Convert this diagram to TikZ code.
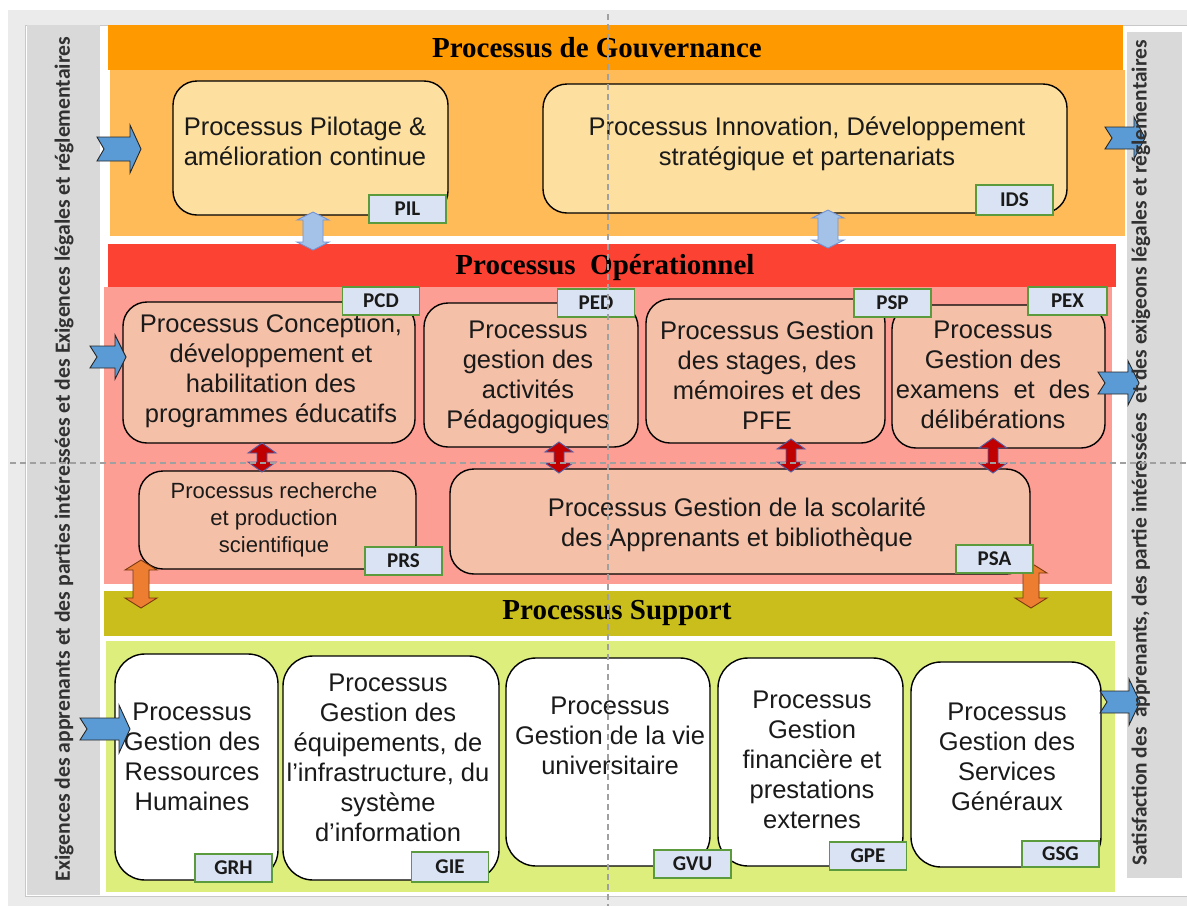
\documentclass[tikz,border=0pt]{standalone}
\usepackage{fontspec}
\setmainfont{Liberation Sans}
\newfontfamily\titlefont{Liberation Serif}
\newfontfamily\tagfont{Carlito}
\usetikzlibrary{fit}
\definecolor{outergray}{HTML}{EBEBEB}
\definecolor{framegray}{HTML}{C8C8C8}
\definecolor{panelgray}{HTML}{D9D9D9}
\definecolor{govhead}{HTML}{FF9900}
\definecolor{govbody}{HTML}{FFBB57}
\definecolor{govbox}{HTML}{FDDFA0}
\definecolor{ophead}{HTML}{FC4232}
\definecolor{opbody}{HTML}{FC9E94}
\definecolor{opbox}{HTML}{F5C0A8}
\definecolor{suphead}{HTML}{C9BE1B}
\definecolor{supbody}{HTML}{DEEE7C}
\definecolor{tagfill}{HTML}{DAE3F3}
\definecolor{tagdraw}{HTML}{5C9B3D}
\definecolor{chevfill}{HTML}{5B9BD5}
\definecolor{textcol}{HTML}{1A1A1A}
\definecolor{govarrfill}{HTML}{A4C2E8}
\definecolor{govarrdraw}{HTML}{7393D3}
\definecolor{redfill}{HTML}{C00000}
\definecolor{reddraw}{HTML}{5060A8}
\definecolor{orfill}{HTML}{ED7D31}
\definecolor{ordraw}{HTML}{7A3A10}
\definecolor{guidegray}{HTML}{A0A0A0}
\newcommand\chevR[5]{\filldraw[chev] ({#1},{#3-#4}) -- ({#2-11},{#3-#4}) -- ({#2-11},{#3-#5}) -- ({#2},{#3}) -- ({#2-11},{#3+#5}) -- ({#2-11},{#3+#4}) -- ({#1},{#3+#4}) -- ({#1+7},{#3}) -- cycle;}
\newcommand\vdarr[7]{\filldraw[#1] ({#2-#5},{#3+#7}) -- ({#2-#6},{#3+#7}) -- ({#2},{#3}) -- ({#2+#6},{#3+#7}) -- ({#2+#5},{#3+#7}) -- ({#2+#5},{#4-#7}) -- ({#2+#6},{#4-#7}) -- ({#2},{#4}) -- ({#2-#6},{#4-#7}) -- ({#2-#5},{#4-#7}) -- cycle;}
\begin{document}
\begin{tikzpicture}[x=1pt,y=-1pt,
  band/.style={inner sep=0pt, outer sep=0pt},
  pbox/.style={inner sep=0pt, draw=black, line width=1.4pt, rounded corners=24pt},
  txt/.style={align=center, text=textcol, font=\fontsize{25.5}{30}\selectfont, inner sep=0pt},
  smalltxt/.style={align=center, text=textcol, font=\fontsize{22}{27}\selectfont, inner sep=0pt},
  title/.style={text=black, font=\titlefont\bfseries\fontsize{29}{32}\selectfont, inner sep=0pt},
  tag/.style={fill=tagfill, draw=tagdraw, line width=1.3pt, minimum width=77pt, minimum height=28pt, inner sep=0pt, font=\tagfont\bfseries\fontsize{21}{24}\selectfont, text=textcol},
  sidetxt/.style={rotate=90, text=textcol!90, font=\tagfont\bfseries, inner sep=0pt},
  chev/.style={fill=chevfill, draw=black!85, line width=0.9pt, line join=miter},
  govarr/.style={fill=govarrfill, draw=govarrdraw, line width=0.9pt},
  redarr/.style={fill=redfill, draw=reddraw, line width=0.9pt},
  orarr/.style={fill=orfill, draw=ordraw, line width=0.9pt},
  guide/.style={draw=guidegray, line width=1.3pt, dash pattern=on 6pt off 4pt}]
\useasboundingbox (0,0) rectangle (1187,906);
% background frame
\fill[outergray] (8,10) rectangle (1187,906);
\fill[white] (25,25) rectangle (1187,896);
\draw[framegray, line width=1pt] (1187,25) -- (25,25) -- (25,896) -- (1187,896);
% side panels
\node[band, fill=panelgray, fit={(27,25) (100,895)}] (leftpanel) {};
\node[band, fill=panelgray, fit={(1127,32) (1182,878)}] (rightpanel) {};
% bands
\node[band, fill=govhead, fit={(108,25) (1123,70)}] (govh) {};
\node[band, fill=govbody, fit={(110,70) (1125,236)}] (govb) {};
\node[band, fill=ophead, fit={(108,244) (1116,287)}] (oph) {};
\node[band, fill=opbody, fit={(104,287) (1112,584)}] (opb) {};
\node[band, fill=suphead, fit={(104,591) (1112,636)}] (suph) {};
\node[band, fill=supbody, fit={(106,641) (1115,892)}] (supb) {};
% titles
\node[title] (govt) at (597,48) {Processus de Gouvernance};
\node[title] (opt) at (605,268) {Processus\ \ Opérationnel};
\node[title] (supt) at (617,613) {Processus Support};
% governance boxes
\node[pbox, fill=govbox, fit={(173,81) (448,215)}] (PIL) {};
\node[txt] (PILt) at (305,141) {Processus Pilotage \&\\amélioration continue};
\node[pbox, fill=govbox, fit={(543,84) (1067,213)}] (IDS) {};
\node[txt] (IDSt) at (807,144) {Processus Innovation, Développement\\stratégique et partenariats};
% operational boxes
\node[pbox, fill=opbox, fit={(123,302) (415,443)}] (PCD) {};
\node[txt] (PCDt) at (271,371) {Processus Conception,\\développement et\\habilitation des\\programmes éducatifs};
\node[pbox, fill=opbox, fit={(424,303) (638,447)}] (PED) {};
\node[txt] (PEDt) at (528,377) {Processus\\gestion des\\activités\\Pédagogiques};
\node[pbox, fill=opbox, fit={(646,299) (885,443)}] (PSP) {};
\node[txt] (PSPt) at (767,375) {Processus Gestion\\des stages, des\\mémoires et des\\PFE};
\node[pbox, fill=opbox, fit={(892,305) (1105,448)}] (PEX) {};
\node[txt] (PEXt) at (993,375) {Processus\\Gestion des\\examens\ \ et\ \ des\\délibérations};
\node[pbox, fill=opbox, fit={(139,471) (416,569)}] (PRS) {};
\node[smalltxt] (PRSt) at (274,520) {Processus recherche\\et production\\scientifique};
\node[pbox, fill=opbox, fit={(450,469) (1030,574)}] (PSA) {};
\node[txt] (PSAt) at (737,525) {Processus Gestion de la scolarité\\des Apprenants et bibliothèque};
% support boxes
\node[pbox, fill=white, rounded corners=30pt, fit={(115,654) (278,880)}] (GRH) {};
\node[txt] (GRHt) at (192,757) {Processus\\Gestion des\\Ressources\\Humaines};
\node[pbox, fill=white, rounded corners=30pt, fit={(283,656) (499,880)}] (GIE) {};
\node[txt] (GIEt) at (388,758) {Processus\\Gestion des\\équipements, de\\l’infrastructure, du\\système\\d’information};
\node[pbox, fill=white, rounded corners=30pt, fit={(506,658) (710,866)}] (GVU) {};
\node[txt] (GVUt) at (610,736) {Processus\\Gestion de la vie\\universitaire};
\node[pbox, fill=white, rounded corners=30pt, fit={(718,658) (903,866)}] (GPE) {};
\node[txt] (GPEt) at (812,760) {Processus\\Gestion\\financière et\\prestations\\externes};
\node[pbox, fill=white, rounded corners=30pt, fit={(911,662) (1101,867)}] (GSG) {};
\node[txt] (GSGt) at (1007,757) {Processus\\Gestion des\\Services\\Généraux};
% double arrows
\vdarr{govarr}{313}{212}{250}{10}{16}{8}
\vdarr{govarr}{828}{210}{248}{10}{16}{8}
\vdarr{redarr}{262}{443}{472}{5}{14}{10}
\vdarr{redarr}{559}{442}{473}{5}{14}{10}
\vdarr{redarr}{791}{439}{472}{5}{14}{10}
\vdarr{redarr}{993}{438}{473}{5}{14}{10}
\vdarr{orarr}{141}{560}{608}{8}{16}{10}
\vdarr{orarr}{1031}{563}{608}{8}{16}{10}
% tags
\node[tag] (tPIL) at (407.5,209) {PIL};
\node[tag, minimum height=30pt] (tIDS) at (1014.5,200) {IDS};
\node[tag] (tPCD) at (381,301) {PCD};
\node[tag] (tPED) at (596,303) {PED};
\node[tag] (tPSP) at (892.5,303) {PSP};
\node[tag, minimum width=79pt] (tPEX) at (1067.5,301) {PEX};
\node[tag] (tPRS) at (403.5,561) {PRS};
\node[tag] (tPSA) at (994.5,559) {PSA};
\node[tag] (tGRH) at (233.5,868) {GRH};
\node[tag, minimum height=30pt] (tGIE) at (450,867) {GIE};
\node[tag] (tGVU) at (692.5,864) {GVU};
\node[tag] (tGPE) at (868,856) {GPE};
\node[tag, minimum height=26pt] (tGSG) at (1060.5,854) {GSG};
% chevron arrows
\chevR{97}{141}{149}{12}{24}
\chevR{90}{126}{357}{11}{22}
\chevR{80}{130}{729}{11}{24}
\chevR{1105}{1145}{138}{11}{21}
\chevR{1098}{1139}{383}{11}{22}
\chevR{1100}{1140}{702}{11}{23}
% side texts
\node[sidetxt, font=\tagfont\bfseries\fontsize{21.7}{24}\selectfont] (lefttxt) at (64,459) {Exigences des apprenants et des parties intéressées et des Exigences légales et réglementaires};
\node[sidetxt, font=\tagfont\bfseries\fontsize{21.4}{24}\selectfont] (righttxt) at (1141,453) {Satisfaction des\ \ apprenants, des partie intéressées\ \ et des exigeons légales et réglementaires};
% guide lines
\draw[guide] (608,14) -- (608,906);
\draw[guide] (10,463) -- (1187,463);
\end{tikzpicture}
\end{document}
